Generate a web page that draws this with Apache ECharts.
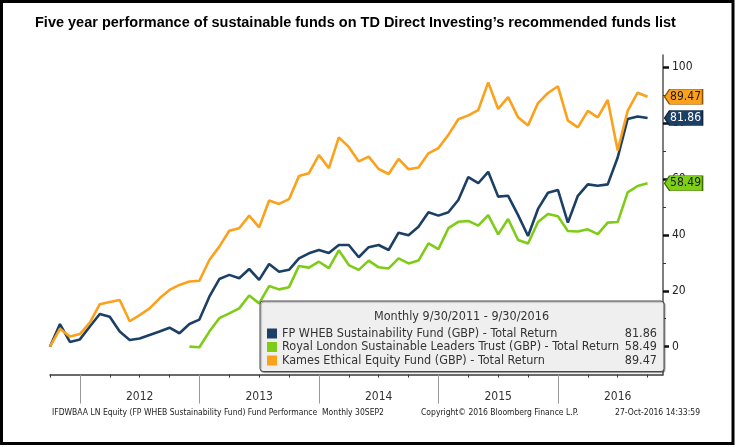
<!DOCTYPE html>
<html><head><meta charset="utf-8">
<script src="https://cdn.jsdelivr.net/npm/echarts@6/dist/echarts.min.js"></script>
<style>html,body{margin:0;padding:0;background:#fff}#c{width:736px;height:447px}</style>
</head><body><div id="c"></div>
<script>
// Monthly total return (%) from 9/30/2011 (index 0) to 9/30/2016 (index 60)
const fpWheb = [
  0, 8.1, 1.7, 2.6, 7.2, 11.7, 10.7, 5.4, 2.4, 2.9,
  4.2, 5.4, 6.8, 4.8, 8.1, 9.7, 17.9, 24.2, 25.7, 24.5,
  27.8, 23.9, 29.6, 26.8, 27.5, 31.6, 33.4, 34.6, 33.5, 36.4,
  36.4, 32.0, 35.6, 36.4, 34.6, 40.8, 39.9, 42.9, 48.1, 46.9,
  48.1, 52.5, 60.7, 58.5, 62.6, 53.7, 54.0, 47.1, 39.6, 49.3,
  55.1, 56.1, 44.4, 54.0, 58.1, 57.6, 58.1, 67.7, 81.5, 82.4,
  81.86
];
const royalLondon = [
  null, null, null, null, null, null, null, null, null, null,
  null, null, null, null,
  0, -0.2, 5.4, 10.2, 11.9, 13.7, 18.3, 15.5, 21.7, 20.5,
  21.3, 28.9, 28.3, 30.4, 28.1, 34.5, 29.2, 27.5, 30.8, 28.4,
  28.0, 31.6, 29.8, 30.8, 37.0, 34.9, 42.4, 44.7, 45.0, 43.3,
  47.1, 40.2, 45.7, 38.2, 36.9, 44.6, 47.5, 46.7, 41.4, 41.2,
  42.0, 40.3, 44.4, 44.6, 55.2, 57.5, 58.49
];
const kames = [
  0, 6.4, 3.6, 4.5, 8.6, 15.2, 16.0, 16.7, 9.1, 11.3,
  13.7, 17.3, 20.3, 22.1, 23.3, 23.6, 31.0, 35.8, 41.5, 42.4,
  46.9, 42.7, 52.3, 51.1, 52.8, 61.1, 62.1, 68.6, 63.9, 74.9,
  71.5, 66.3, 68.0, 63.6, 61.8, 67.2, 63.5, 64.1, 69.2, 71.1,
  75.8, 81.4, 82.8, 84.7, 94.6, 85.1, 89.3, 82.1, 79.2, 87.2,
  90.8, 93.2, 80.9, 78.5, 84.4, 82.1, 88.3, 70.2, 84.4, 90.9,
  89.47
];
const seriesNames = [
  'FP WHEB Sustainability Fund (GBP) - Total Return',
  'Royal London Sustainable Leaders Trust (GBP) - Total Return',
  'Kames Ethical Equity Fund (GBP) - Total Return'
];
const lastLabels = ['81.86', '58.49', '89.47'];
const years = ['2012', '2013', '2014', '2015', '2016'];
const yearStartIdx = [3, 15, 27, 39, 51];   // month index of January
const yearMidIdx = [9, 21, 33, 45, 57];     // month index of mid-year (label position)
const quarterIdx = [0, 3, 6, 9, 12, 15, 18, 21, 24, 27, 30, 33, 36, 39, 42, 45, 48, 51, 54, 57, 60];
const yMajorTicks = [0, 20, 40, 60, 80, 100];
const yMinorTicks = [10, 30, 50, 70, 90];

const colors = ['#1c3f66', '#7fcc17', '#fca11c'];
const tagStyles = [
  { fill: '#1c3f66', border: '#0f2540', text: '#ffffff' },
  { fill: '#7fcf17', border: '#3f6e08', text: '#1a1a1a' },
  { fill: '#fca11c', border: '#8a5200', text: '#1a1a1a' }
];
const FONT = '"DejaVu Sans Condensed", "DejaVu Sans", sans-serif';

const allData = [fpWheb, royalLondon, kames];

const chart = echarts.init(document.getElementById('c'), null, { renderer: 'canvas' });

const series = allData.map((arr, k) => ({
  name: seriesNames[k],
  type: 'line',
  xAxisIndex: 0,
  yAxisIndex: 0,
  data: arr.map((v, i) => [i, v]),
  showSymbol: false,
  connectNulls: false,
  lineStyle: { width: 2.6, color: colors[k] },
  itemStyle: { color: colors[k] },
  emphasis: { disabled: true },
  z: 2 + k,
  markPoint: {
    symbol: 'path://M0,7 L5,0 L38,0 L38,14 L5,14 Z',
    symbolSize: [38, 15],
    symbolOffset: [36, 0],
    symbolKeepAspect: false,
    itemStyle: { color: tagStyles[k].fill, borderColor: tagStyles[k].border, borderWidth: 1 },
    label: {
      show: true, position: 'inside', offset: [2, 0],
      formatter: lastLabels[k], color: tagStyles[k].text,
      fontSize: 12, fontFamily: FONT
    },
    emphasis: { disabled: true },
    data: [{ coord: [arr.length - 1, arr[arr.length - 1]], value: arr[arr.length - 1] }]
  }
}));

const option = {
  animation: false,
  backgroundColor: '#ffffff',
  title: {
    text: 'Five year performance of sustainable funds on TD Direct Investing\u2019s recommended funds list',
    left: 35, top: 15, padding: 0,
    textStyle: { fontFamily: '"Liberation Sans", Arial, sans-serif', fontWeight: 'bold', fontSize: 14.5, color: '#000' }
  },
  grid: { left: 50, right: 73, top: 55, bottom: 72.4, containLabel: false },
  xAxis: [
    {
      type: 'value', min: 0, max: 61.55, interval: 3, position: 'bottom',
      axisLine: { show: true, onZero: false, lineStyle: { color: '#3a3a3a', width: 1.5 } },
      axisTick: { show: true, customValues: quarterIdx, length: 3, lineStyle: { color: '#3a3a3a', width: 1 } },
      axisLabel: { show: false },
      splitLine: { show: false }
    },
    {
      type: 'value', min: 0, max: 61.55, interval: 3, position: 'bottom',
      axisLine: { show: false, onZero: false },
      axisTick: { show: true, customValues: yearStartIdx, length: 29, lineStyle: { color: '#9a9a9a', width: 1 } },
      axisLabel: {
        show: true, customValues: yearMidIdx, margin: 16,
        formatter: v => years[yearMidIdx.indexOf(v)],
        fontFamily: FONT, fontSize: 12, color: '#333'
      },
      splitLine: { show: false }
    }
  ],
  yAxis: [
    {
      type: 'value', position: 'right', min: -10, max: 104.4, interval: 10,
      axisLine: { show: true, onZero: false, lineStyle: { color: '#555', width: 1.5 } },
      axisTick: { show: true, customValues: yMajorTicks, length: 6, lineStyle: { color: '#111', width: 2.5 } },
      axisLabel: { show: true, customValues: yMajorTicks, margin: 9, fontFamily: FONT, fontSize: 12, color: '#222' },
      splitLine: { show: false }
    },
    {
      type: 'value', position: 'right', min: -10, max: 104.4, interval: 10,
      axisLine: { show: false, onZero: false },
      axisTick: { show: true, customValues: yMinorTicks, length: 3, lineStyle: { color: '#333', width: 1 } },
      axisLabel: { show: false },
      splitLine: { show: false }
    }
  ],
  legend: {
    left: 260, top: 301, orient: 'vertical',
    padding: [26, 7, 4.5, 7],
    itemWidth: 10, itemHeight: 10, itemGap: 0.5,
    icon: 'rect', selectedMode: false,
    backgroundColor: '#efefef', borderColor: '#4a4a4a', borderWidth: 1, borderRadius: 3,
    shadowColor: 'rgba(0,0,0,0.35)', shadowOffsetX: 1, shadowOffsetY: 1, shadowBlur: 1,
    data: seriesNames,
    formatter: name => '{n|' + name + '}{v|' + lastLabels[seriesNames.indexOf(name)] + '}',
    textStyle: {
      fontFamily: FONT, fontSize: 12.5, color: '#333', lineHeight: 12,
      rich: {
        n: { width: 341, fontFamily: FONT, fontSize: 12.5, color: '#333', lineHeight: 12 },
        v: { width: 34, align: 'right', fontFamily: FONT, fontSize: 12.5, color: '#333', lineHeight: 12 }
      }
    }
  },
  graphic: [
    { type: 'text', z: 100, x: 461.5, y: 317,
      style: { text: 'Monthly 9/30/2011 - 9/30/2016', align: 'center', verticalAlign: 'middle', font: '12.5px ' + FONT, fill: '#333' } },
    { type: 'text', z: 100, x: 52, y: 413,
      style: { text: 'IFDWBAA LN Equity (FP WHEB Sustainability Fund) Fund Performance  Monthly 30SEP2', verticalAlign: 'middle', font: '8.5px ' + FONT, fill: '#222' } },
    { type: 'text', z: 100, x: 421, y: 413,
      style: { text: 'Copyright\u00a9 2016 Bloomberg Finance L.P.', verticalAlign: 'middle', font: '8.5px ' + FONT, fill: '#222' } },
    { type: 'text', z: 100, x: 700, y: 413,
      style: { text: '27-Oct-2016 14:33:59', align: 'right', verticalAlign: 'middle', font: '8.5px ' + FONT, fill: '#222' } },
    { type: 'rect', z: 100, shape: { x: 1.5, y: 1.5, width: 731.5, height: 442 },
      style: { fill: 'none', stroke: '#000', lineWidth: 3 } }
  ],
  series: series
};

chart.setOption(option);
</script>
</body></html>
